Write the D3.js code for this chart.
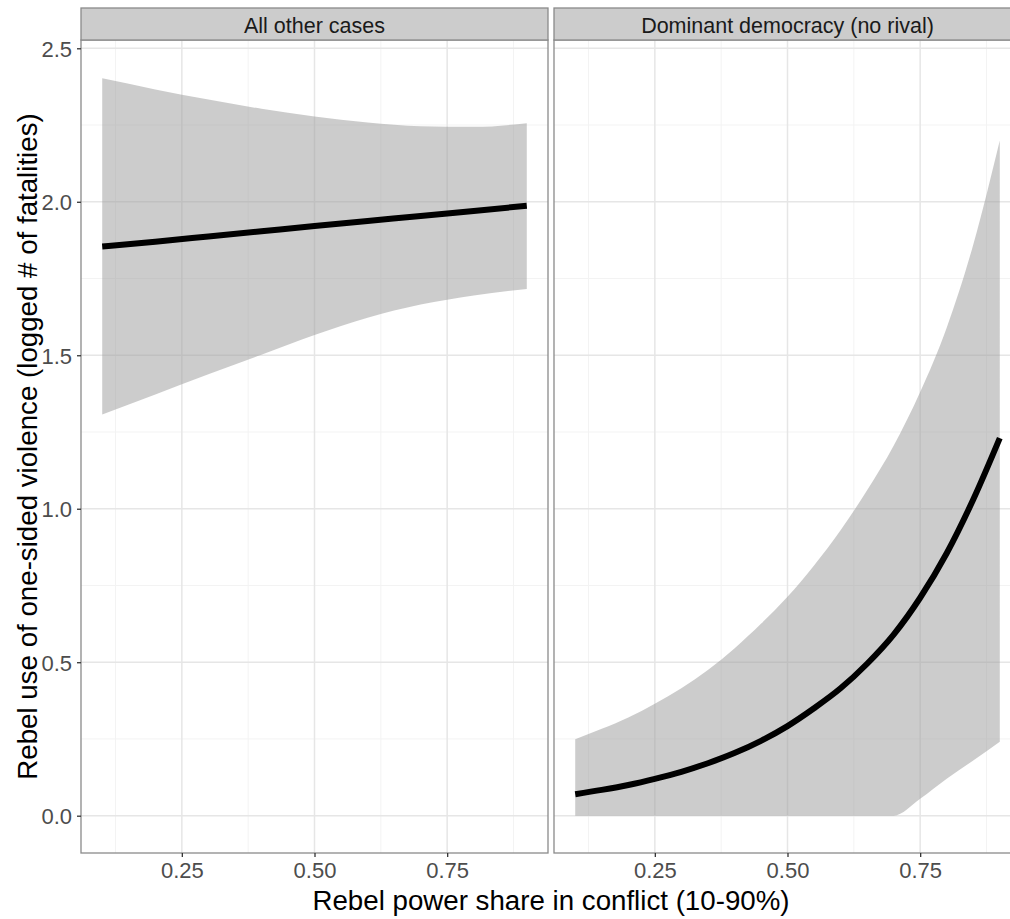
<!DOCTYPE html>
<html>
<head>
<meta charset="utf-8">
<script src="https://cdn.jsdelivr.net/npm/d3@7"></script>
<style>
  body { margin: 0; background: #ffffff; }
  svg { display: block; font-family: 'Liberation Sans', Arial, sans-serif; }
</style>
</head>
<body>
<div id="view"></div>
<script>
'use strict';

// facet labels
const facets = ['All other cases', 'Dominant democracy (no rival)'];

// left facet: predicted values with 95% band
const xLeft = [0.1, 0.2, 0.3, 0.4, 0.5, 0.6, 0.7, 0.8, 0.9];
const fitLeft = [1.854, 1.870, 1.887, 1.904, 1.921, 1.937, 1.954, 1.970, 1.987];
const loLeft = [1.307, 1.372, 1.438, 1.502, 1.566, 1.622, 1.665, 1.695, 1.716];
const hiLeft = [2.402, 2.366, 2.333, 2.303, 2.278, 2.258, 2.246, 2.244, 2.256];

// right facet
const xRight = [0.1, 0.15, 0.2, 0.25, 0.3, 0.35, 0.4, 0.45, 0.5, 0.55, 0.6, 0.65, 0.7, 0.75, 0.8, 0.85, 0.9];
const fitRight = [0.070, 0.084, 0.100, 0.120, 0.143, 0.171, 0.204, 0.244, 0.292, 0.350, 0.415, 0.495, 0.590, 0.710, 0.855, 1.030, 1.230];
const loRight = [0, 0, 0, 0, 0, 0, 0, 0, 0, 0, 0, 0, 0, 0.055, 0.120, 0.180, 0.241];
const hiRight = [0.249, 0.283, 0.320, 0.365, 0.415, 0.475, 0.545, 0.625, 0.713, 0.815, 0.930, 1.060, 1.205, 1.380, 1.590, 1.860, 2.200];

const yMajor = [0, 0.5, 1.0, 1.5, 2.0, 2.5];
const yMinor = [0.25, 0.75, 1.25, 1.75, 2.25];
const xMajor = [0.25, 0.5, 0.75];
const xMinor = [0.125, 0.375, 0.625, 0.875];

const xTitle = 'Rebel power share in conflict (10-90%)';
const yTitle = 'Rebel use of one-sided violence (logged # of fatalities)';

const size = { w: 1010, h: 919 };
const panel = { top: 40, bottom: 853, w: 467, stripTop: 8, lefts: [81, 554] };

const presentation = {
  fill_band: '#999999',
  stroke_border: '#8a8a8a',
  fill_strip: '#cccccc',
  grid_major: '#e6e6e6',
  grid_minor: '#f3f3f3',
  fill_tick: '#4d4d4d',
  fill_title: '#000000'
};

const x = d3.scaleLinear().domain([0.06, 0.94]).range([0, panel.w]);
const y = d3.scaleLinear().domain([-0.1215, 2.527]).range([panel.bottom, panel.top]);

const svg = d3.select('#view').append('svg')
  .attr('width', size.w)
  .attr('height', size.h);

const panels = [
  { label: facets[0], xs: xLeft, fit: fitLeft, lo: loLeft, hi: hiLeft },
  { label: facets[1], xs: xRight, fit: fitRight, lo: loRight, hi: hiRight }
];

panels.forEach((p, i) => {
  const left = panel.lefts[i];
  const g = svg.append('g').attr('transform', `translate(${left},0)`);
  const rows = p.xs.map((v, k) => ({ x: v, fit: p.fit[k], lo: p.lo[k], hi: p.hi[k] }));

  // grid
  g.selectAll('line.yminor').data(yMinor).enter().append('line')
    .attr('x1', 0).attr('x2', panel.w)
    .attr('y1', d => y(d)).attr('y2', d => y(d))
    .attr('stroke', presentation.grid_minor).attr('stroke-width', 1);
  g.selectAll('line.xminor').data(xMinor).enter().append('line')
    .attr('y1', panel.top).attr('y2', panel.bottom)
    .attr('x1', d => x(d)).attr('x2', d => x(d))
    .attr('stroke', presentation.grid_minor).attr('stroke-width', 1);
  g.selectAll('line.ymajor').data(yMajor).enter().append('line')
    .attr('x1', 0).attr('x2', panel.w)
    .attr('y1', d => y(d)).attr('y2', d => y(d))
    .attr('stroke', presentation.grid_major).attr('stroke-width', 1.5);
  g.selectAll('line.xmajor').data(xMajor).enter().append('line')
    .attr('y1', panel.top).attr('y2', panel.bottom)
    .attr('x1', d => x(d)).attr('x2', d => x(d))
    .attr('stroke', presentation.grid_major).attr('stroke-width', 1.5);

  // band and fitted line
  const area = d3.area()
    .x(d => x(d.x)).y0(d => y(d.lo)).y1(d => y(d.hi))
    .curve(d3.curveMonotoneX);
  g.append('path').datum(rows)
    .attr('d', area)
    .attr('fill', presentation.fill_band)
    .attr('fill-opacity', 0.5);

  const line = d3.line().x(d => x(d.x)).y(d => y(d.fit)).curve(d3.curveMonotoneX);
  g.append('path').datum(rows)
    .attr('d', line)
    .attr('fill', 'none')
    .attr('stroke', '#000000')
    .attr('stroke-width', 6);

  // border
  g.append('rect')
    .attr('x', 0).attr('y', panel.top)
    .attr('width', panel.w).attr('height', panel.bottom - panel.top)
    .attr('fill', 'none')
    .attr('stroke', presentation.stroke_border)
    .attr('stroke-width', 1.3);

  // strip
  g.append('rect')
    .attr('x', 0).attr('y', panel.stripTop)
    .attr('width', panel.w).attr('height', panel.top - panel.stripTop)
    .attr('fill', presentation.fill_strip)
    .attr('stroke', presentation.stroke_border)
    .attr('stroke-width', 1.3);
  g.append('text')
    .attr('x', panel.w / 2).attr('y', 33)
    .attr('text-anchor', 'middle')
    .attr('font-size', 21.5)
    .attr('fill', '#1a1a1a')
    .text(p.label);

  // x axis
  const xAxis = d3.axisBottom(x).tickValues(xMajor).tickFormat(d3.format('.2f')).tickSize(4).tickPadding(4);
  const ga = g.append('g').attr('transform', `translate(0,${panel.bottom})`).call(xAxis);
  ga.select('.domain').remove();
  ga.selectAll('line').attr('stroke', '#333333').attr('stroke-width', 1.3);
  ga.selectAll('text').attr('font-size', 22).attr('fill', presentation.fill_tick)
    .attr('font-family', "'Liberation Sans', Arial, sans-serif").attr('dy', '0.75em');

  if (i === 0) {
    const yAxis = d3.axisLeft(y).tickValues(yMajor).tickFormat(d3.format('.1f')).tickSize(4).tickPadding(5);
    const gy = g.append('g').call(yAxis);
    gy.select('.domain').remove();
    gy.selectAll('line').attr('stroke', '#333333').attr('stroke-width', 1.3);
    gy.selectAll('text').attr('font-size', 22).attr('fill', presentation.fill_tick)
      .attr('font-family', "'Liberation Sans', Arial, sans-serif").attr('dy', '0.36em');
  }
});

// axis titles
svg.append('text')
  .attr('x', 551).attr('y', 910)
  .attr('text-anchor', 'middle')
  .attr('font-size', 27.7)
  .attr('fill', presentation.fill_title)
  .text(xTitle);

svg.append('text')
  .attr('transform', `translate(37,${(panel.top + panel.bottom) / 2}) rotate(-90)`)
  .attr('text-anchor', 'middle')
  .attr('font-size', 27.7)
  .attr('fill', presentation.fill_title)
  .text(yTitle);
</script>
</body>
</html>
